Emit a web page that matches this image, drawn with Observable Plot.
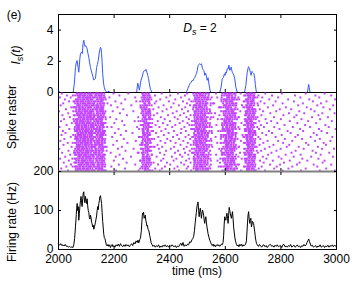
<!DOCTYPE html>
<html><head><meta charset="utf-8">
<script src="https://cdn.jsdelivr.net/npm/d3@7"></script>
<script src="https://cdn.jsdelivr.net/npm/@observablehq/plot@0.6"></script>
<style>
body{margin:0;background:#fff;}
#wrap{position:relative;width:354px;height:284px;font-family:"Liberation Sans",Arial,sans-serif;}
#wrap svg{position:absolute;left:0;overflow:visible;}
#labels{top:0;pointer-events:none;}
</style></head><body>
<div id="wrap">
<svg id="labels" width="354" height="284" font-family="Liberation Sans, Arial, sans-serif" font-size="12" fill="black">
  <text x="14" y="19" text-anchor="middle">(e)</text>
  <text x="200" y="32" text-anchor="middle"><tspan font-style="italic">D</tspan><tspan font-style="italic" font-size="9" dy="3">s</tspan><tspan dy="-3"> = 2</tspan></text>
  <text transform="translate(20,55) rotate(-90)" text-anchor="middle" font-style="italic">I<tspan font-size="9" dy="3">s</tspan><tspan dy="-3">(t)</tspan></text>
  <text transform="translate(16,117) rotate(-90)" text-anchor="middle">Spike raster</text>
  <text transform="translate(16,222) rotate(-90)" text-anchor="middle">Firing rate (Hz)</text>
  <text x="197" y="275" text-anchor="middle">time (ms)</text>
</svg>
</div>
<script>
const xTicks = [2000, 2200, 2400, 2600, 2800, 3000];
const isTicks = [0, 2, 4];
const frTicks = [0, 100, 200];

// I_s(t) — synaptic current (top panel)
const isT = [2000,2004,2053,2057,2061,2065,2067,2073,2077,2079,2083,2086,2088,2091,2093,2095,2098,2101,2103,2106,2109,2112,2115,2118,2121,2124,2127,2130,2133,2137,2140,2143,2147,2151,2153,2155,2157,2159,2162,2165,2169,2173,2178,2181,2184,
  2281,2285,2288,2291,2295,2297,2301,2305,2309,2312,2315,2318,2321,2324,2326,2329,2331,2336,
  2460,2465,2470,2472,2477,2481,2484,2487,2490,2493,2496,2499,2502,2505,2508,2511,2514,2516,2518,2521,2523,2526,2529,2532,2535,2538,2542,2545,2548,
  2580,2585,2589,2593,2597,2599,2601,2604,2607,2610,2613,2616,2619,2621,2623,2625,2628,2631,2634,2638,2643,
  2669,2674,2677,2679,2683,2685,2687,2690,2693,2696,2698,2701,2703,2706,2708,2712,2895,2898,2900,2902,2905,3000];
const isV = [0.15,0,0,0.6,1.6,2.0,2.05,1.3,2.2,2.48,2.6,2.5,3.1,3.35,3.1,2.95,3.0,2.9,2.8,2.5,2.25,1.9,1.6,1.4,1.2,1.0,0.8,0.85,0.9,1.6,1.8,2.05,2.6,2.9,2.8,2.5,1.9,1.2,0.6,0.3,0.1,0.05,0,0.1,0,
  0,0.6,0.4,0.15,0.6,0.8,1.0,1.3,1.42,1.4,1.48,1.3,1.1,0.9,0.65,0.35,0.2,0,
  0,0.25,0.45,0.55,0.65,0.78,0.75,0.88,0.95,1.1,1.2,1.4,1.72,1.8,1.84,1.8,1.84,1.7,1.52,1.45,1.4,1.1,1.25,1.05,0.78,0.95,0.45,0.15,0,
  0,0.35,0.88,0.95,1.2,1.1,1.3,1.25,1.52,1.5,1.75,1.42,1.5,1.62,1.45,1.3,1.2,1.1,0.88,0.34,0,
  0,0.45,1.0,1.3,1.65,1.62,1.52,1.3,1.1,1.35,1.3,1.25,1.2,0.9,0.5,0,0,0.3,0.52,0.3,0,0];

// Population firing rate (bottom panel)
const frT = [2000,2004,2008,2012,2016,2020,2024,2028,2032,2036,2040,2044,2048,2052,2055,2058,2061,2064,2067,2069,2071,2073,2075,2077,2079,2081,2083,2085,2087,2089,2091,2093,2095,2097,2099,2101,2103,2105,2107,2109,2111,2113,2115,2117,2119,2121,2123,2125,2127,2129,2131,2133,2135,2137,2139,2141,2143,2145,2147,2149,2151,2153,2155,2157,2159,2161,2163,2165,2167,2169,2172,2175,2178,2181,2184,2187,2190,2193,2196,2199,2203,2207,2211,2215,2219,2223,2227,2231,2235,2239,2243,2247,2251,2255,2259,2263,2267,2271,2275,2279,2283,2286,2289,2292,2295,2298,2300,2302,2304,2306,2308,2310,2312,2314,2316,2318,2320,2322,2324,2326,2328,2330,2333,2336,2340,2344,2348,2352,2356,2360,2364,2368,2372,2376,2380,2384,2388,2392,2396,2400,2404,2408,2412,2416,2420,2424,2428,2432,2436,2440,2444,2448,2452,2456,2460,2464,2468,2472,2476,2480,2483,2486,2489,2492,2494,2496,2498,2500,2502,2504,2506,2508,2510,2512,2514,2516,2518,2520,2522,2524,2526,2528,2530,2532,2534,2536,2538,2541,2544,2547,2550,2553,2556,2559,2562,2565,2568,2571,2574,2577,2580,2583,2586,2589,2592,2594,2596,2598,2600,2602,2604,2606,2608,2610,2612,2614,2616,2618,2620,2622,2624,2626,2628,2630,2632,2634,2636,2638,2640,2643,2646,2649,2652,2655,2658,2661,2664,2667,2670,2673,2676,2678,2680,2682,2684,2686,2688,2690,2692,2694,2696,2698,2700,2702,2704,2706,2708,2710,2712,2715,2719,2723,2727,2731,2735,2739,2743,2747,2751,2755,2759,2763,2767,2771,2775,2779,2783,2787,2791,2795,2799,2803,2807,2811,2815,2819,2823,2827,2831,2835,2839,2843,2847,2851,2855,2859,2863,2867,2871,2875,2879,2883,2887,2891,2894,2897,2900,2903,2906,2909,2913,2917,2921,2925,2929,2933,2937,2941,2945,2949,2953,2957,2961,2965,2969,2973,2977,2981,2985,2989,2993,2997,3000];
const frV = [14,11,15,10,12,9,13,8,9,6,8,5,7,5,12,28,58,90,118,100,110,75,92,110,125,136,120,110,130,145,148,127,120,136,125,118,130,112,100,95,82,78,88,82,70,66,58,62,52,58,63,70,78,86,100,110,102,118,125,135,138,128,118,95,72,55,38,30,28,22,12,9,13,8,12,5,10,13,7,10,6,12,9,14,8,15,10,7,12,8,13,9,12,7,11,15,10,18,14,22,18,24,17,25,30,48,72,93,90,96,80,84,88,75,68,60,62,52,50,45,36,30,18,13,8,11,6,10,7,12,5,9,6,11,8,12,7,10,6,11,8,12,9,7,10,5,9,7,12,16,10,18,8,12,9,14,12,20,18,25,28,33,48,70,84,95,110,118,122,100,84,98,106,95,80,92,101,96,88,75,67,78,84,70,58,50,40,32,24,19,13,10,14,8,12,7,11,13,9,12,8,10,14,12,18,35,65,84,78,75,85,93,80,67,88,108,100,93,85,80,90,97,78,58,45,32,24,18,13,9,12,7,13,10,14,8,12,9,11,14,22,45,70,90,97,78,67,75,80,58,65,72,70,66,55,45,32,23,16,12,8,13,9,6,11,12,7,10,5,9,12,13,8,10,6,11,8,12,7,9,10,5,12,13,7,9,6,10,8,13,6,9,11,6,8,12,7,9,5,10,8,13,9,12,18,22,27,20,14,9,11,6,8,10,5,9,7,12,6,8,10,5,9,7,11,6,10,8,12,7,11,8,12];

// Spike raster: 40 rows of 5 neurons each.
// Burst windows (start ms, 4 ms per character; '#' = spike, '|' is only a visual separator)
const burstStart = [2052, 2292, 2480, 2580, 2668];
// per-row offset (ms) of the burst edges
const rowShift = [3,-2,5,0,-4,6,1,-5,2,-1,4,-3,7,0,-6,3,-2,5,-4,1,6,-1,-5,2,4,-3,0,7,-2,3,-6,1,5,-4,2,-1,6,-3,0,4];
const rasterBursts = [
"..|##.###.##.####.#|.#|###.##.#|.. .#|#.##.#.|.. #.|##.###.#.##.|#... .#|.#|##.###.##|#.. .|##.###.#|..",
"#.|#.####.###.#.###|..|##.####.|#. ..|.###.##|#. ..|#.##.####.#.|.#.. ..|#.|#.####.#.|.#. #|#.####.#|#.",
"..|.###.##.#####.##|#.|#.###.##|.. #.|##.#.##|.. .#|.###.#.##.##|..#. #.|..|.###.##.#|..# .|.###.###|.#",
"..|###.#.###.##.###|..|.##.####|.# ..|#.#.###|.# ..|###.#.##.#.#|#.#. .#|.#|###.#.###|#.# .|###.#.##|..",
".#|#.##.####.#.##.#|.#|##.#.###|.. .#|.##.#.#|#. #.|#.#.###.##.#|.... ..|#.|#.##.####|... #|#.##.###|#.",
"#.|##.#.###.####.##|..|#.##.##.|.# ..|##..##.|.. ..|##.##.#.###.|.#.# .#|..|##.#.##.#|#.. .|##.##.#.|.#",
"..|.####.#.###.#.##|#.|###.##.#|.. #.|#.###.#|.# .#|##.###.#.##.|..#. ..|.#|##.###.##|.#. .|##.###.#|..",
".#|###.##.##.#.####|..|#.###.##|#. ..|#.##.#.|.. ..|#.##.####.#.|#... .#|#.|#.####.#.|..# #|#.####.#|..",
"..|#.###.###.##.#.#|.#|##.####.|.. .#|.###.##|.. #.|.###.#.##.##|.#.. ..|..|.###.##.#|#.# .|.###.###|#.",
"#.|##.##.#.####.###|#.|.##.####|.# ..|##.#.##|#. ..|###.#.##.#.#|..#. .#|.#|###.#.###|... .|###.#.##|.#",
"..|##.###.##.####.#|..|##.#.###|.. #.|#.#.###|.. .#|#.#.###.##.#|#.#. ..|#.|#.##.####|#.. #|#.##.###|..",
".#|#.####.###.#.###|.#|#.##.##.|#. ..|.##.#.#|.# ..|##.##.#.###.|.... #.|..|##.#.##.#|.#. .|##.##.#.|#.",
"..|.###.##.#####.##|..|###.##.#|.. .#|##..##.|.. #.|##.###.#.##.|.#.# ..|.#|##.###.##|..# .|##.###.#|..",
"#.|###.#.###.##.###|#.|##.####.|.# ..|#.###.#|#. ..|#.##.####.#.|..#. .#|#.|#.####.#.|#.# #|#.####.#|.#",
"..|#.##.####.#.##.#|..|#.###.##|.. #.|#.##.#.|.. .#|.###.#.##.##|#... ..|..|.###.##.#|... .|.###.###|..",
".#|##.#.###.####.##|.#|.##.####|#. ..|.###.##|.# ..|###.#.##.#.#|.#.. .#|.#|###.#.###|#.. .|###.#.##|#.",
"..|.####.#.###.#.##|#.|##.#.###|.. .#|##.#.##|.. #.|#.#.###.##.#|..#. ..|#.|#.##.####|.#. #|#.##.###|..",
"#.|###.##.##.#.####|..|#.##.##.|.# ..|#.#.###|#. ..|##.##.#.###.|#.#. .#|..|##.#.##.#|..# .|##.##.#.|.#",
"..|#.###.###.##.#.#|.#|###.##.#|.. #.|.##.#.#|.. .#|##.###.#.##.|.... ..|.#|##.###.##|#.# .|##.###.#|..",
".#|##.##.#.####.###|..|#.###.##|#. ..|##..##.|.# ..|#.##.####.#.|.#.# #.|#.|#.####.#.|... #|#.####.#|#.",
"..|##.###.##.####.#|#.|##.####.|.. .#|#.##.#.|.. #.|.###.#.##.##|..#. ..|..|.###.##.#|#.. .|.###.###|..",
"#.|#.####.###.#.###|..|.##.####|.# ..|.###.##|#. ..|###.#.##.#.#|#... .#|.#|###.#.###|.#. .|###.#.##|.#",
"..|.###.##.#####.##|.#|##.#.###|.. #.|##.#.##|.. .#|#.#.###.##.#|.#.. ..|#.|#.##.####|..# #|#.##.###|..",
".#|###.#.###.##.###|..|#.##.##.|#. ..|#.#.###|.# ..|##.##.#.###.|..#. #.|..|##.#.##.#|#.# .|##.##.#.|#.",
"..|#.##.####.#.##.#|#.|###.##.#|.. .#|.##.#.#|.. #.|##.###.#.##.|#.#. ..|.#|##.###.##|... .|##.###.#|..",
"#.|##.#.###.####.##|..|#.###.##|.# ..|##..##.|#. ..|#.##.####.#.|.... .#|#.|#.####.#.|#.. #|#.####.#|.#",
"..|.####.#.###.#.##|.#|##.####.|.. #.|#.##.#.|.. .#|.###.#.##.##|.#.# ..|..|.###.##.#|.#. .|.###.###|..",
".#|###.##.##.#.####|#.|.##.####|#. ..|.###.##|.# ..|###.#.##.#.#|..#. .#|.#|###.#.###|..# .|###.#.##|#.",
"..|#.###.###.##.#.#|..|##.#.###|.. .#|##.#.##|.. #.|#.#.###.##.#|#... ..|#.|#.##.####|#.# #|#.##.###|..",
"#.|##.##.#.####.###|.#|#.##.##.|.# ..|#.#.###|#. ..|##.##.#.###.|.#.. #.|..|##.#.##.#|... .|##.##.#.|.#",
"..|##.###.##.####.#|..|###.##.#|.. #.|.##.#.#|.. .#|##.###.#.##.|..#. ..|.#|##.###.##|#.. .|##.###.#|..",
".#|#.####.###.#.###|#.|#.###.##|#. ..|##..##.|.# ..|#.##.####.#.|#.#. .#|#.|#.####.#.|.#. #|#.####.#|#.",
"..|.###.##.#####.##|..|##.####.|.. .#|#.##.#.|.. #.|.###.#.##.##|.... ..|..|.###.##.#|..# .|.###.###|..",
"#.|###.#.###.##.###|.#|.##.####|.# ..|.###.##|#. ..|###.#.##.#.#|.#.# .#|.#|###.#.###|#.# .|###.#.##|.#",
"..|#.##.####.#.##.#|..|##.#.###|.. #.|##.#.##|.. .#|#.#.###.##.#|..#. ..|#.|#.##.####|... #|#.##.###|..",
".#|##.#.###.####.##|#.|#.##.##.|#. ..|#.#.###|.# ..|##.##.#.###.|#... #.|..|##.#.##.#|#.. .|##.##.#.|#.",
"..|.####.#.###.#.##|..|###.##.#|.. .#|.##.#.#|.. #.|##.###.#.##.|.#.. ..|.#|##.###.##|.#. .|##.###.#|..",
"#.|###.##.##.#.####|.#|#.###.##|.# ..|##..##.|#. ..|#.##.####.#.|..#. .#|#.|#.####.#.|..# #|#.####.#|.#",
"..|#.###.###.##.#.#|..|##.####.|.. #.|#.##.#.|.. .#|.###.#.##.##|#.#. ..|..|.###.##.#|#.# .|.###.###|..",
".#|##.##.#.####.###|#.|.##.####|#. ..|.###.##|.# ..|###.#.##.#.#|.... .#|.#|###.#.###|... .|###.#.##|#."
];
// Background spikes per row (ms after 2000)
const rasterBg = [
"12 198 251 371 430 463 566 655 744 803 889 957",
"31 219 347 402 455 719 768 851 924 981",
"5 44 183 276 388 441 571 733 790 870 938",
"23 240 309 366 420 470 650 758 826 902 995",
"38 205 280 352 397 448 727 781 847 915 964",
"17 226 346 414 462 560 741 806 879 944",
"8 189 262 378 433 473 660 718 772 862 931 988",
"46 212 295 360 405 456 577 753 818 893 953",
"27 233 341 389 444 724 796 837 908 976",
"2 195 269 374 425 466 654 736 783 866 921",
"35 221 317 355 411 451 563 762 829 884 949 993",
"14 246 343 394 438 475 730 809 856 935",
"41 186 287 368 418 460 647 716 775 848 912 969",
"20 208 337 382 429 469 573 745 800 874 941",
"9 229 274 357 401 447 722 765 832 898 983",
"48 201 322 376 436 464 658 750 787 859 927",
"29 237 349 392 420 471 568 728 813 887 960",
"4 191 283 363 409 453 739 776 843 905 972",
"39 216 304 385 442 477 651 721 795 869 937 997",
"16 243 340 370 415 458 575 757 824 880 946",
"25 203 266 351 396 440 733 768 835 918 966",
"11 224 327 379 427 468 662 747 803 861 929",
"44 193 290 359 412 457 565 719 781 852 907 985",
"21 235 344 391 434 474 726 814 876 940",
"7 210 278 367 403 449 656 752 790 841 923 978",
"33 248 332 384 421 465 571 737 808 890 954",
"18 197 299 356 439 476 723 773 830 899 962",
"47 228 346 373 416 461 648 759 821 864 933",
"3 214 270 361 404 451 578 742 799 882 948 991",
"36 241 318 387 430 472 729 784 853 914",
"13 188 285 365 419 455 653 717 766 838 926 974",
"42 220 336 381 437 467 567 754 817 871 943",
"24 206 261 353 408 445 735 792 846 909 987",
"6 232 329 377 424 470 659 748 802 877 935",
"37 199 293 369 414 459 572 725 771 832 895 957",
"19 245 342 390 441 475 738 811 867 950",
"45 217 276 358 402 452 649 761 797 858 918 981",
"28 190 311 383 428 466 576 731 785 841 931",
"10 239 348 372 417 461 720 776 827 889 963",
"34 207 288 364 433 477 657 743 806 872 940 994"
];
const neuronsPerRow = 5;
const burstStep = 4;

const isData = isT.map((t, i) => ({t, v: isV[i]}));
const frData = frT.map((t, i) => ({t, v: frV[i]}));
const spikes = [];
rasterBursts.forEach((row, r) => {
  const n = r * neuronsPerRow + neuronsPerRow / 2;
  row.split(" ").forEach((seg, k) => {
    const s = seg.replace(/\|/g, "");
    for (let i = 0; i < s.length; i++) if (s[i] === "#") spikes.push({t: burstStart[k] + rowShift[r] + i * burstStep + burstStep / 2, n});
  });
  rasterBg[r].split(" ").forEach(v => spikes.push({t: 2000 + +v, n}));
});

const style = {fontFamily: "Liberation Sans, Arial, sans-serif", fontSize: "12px", background: "transparent", overflow: "visible", color: "black"};
const base = {width: 354, marginLeft: 58, marginRight: 18, x: {domain: [2000, 3000]}, style};
const blank = () => "";
const intFmt = d3.format("d");
const inner = (extra) => Object.assign({tickSize: -3, label: null}, extra);

const p1 = Plot.plot({...base, height: 92, marginTop: 14, marginBottom: 0,
  y: {domain: [0, 5]},
  marks: [
    Plot.line(isData, {x: "t", y: "v", stroke: "#3558ff", strokeWidth: 1}),
    Plot.axisY(inner({ticks: isTicks, anchor: "left", tickPadding: 8, tickFormat: intFmt})),
    Plot.axisY(inner({ticks: isTicks, anchor: "right", tickFormat: blank})),
    Plot.axisX(inner({ticks: xTicks, anchor: "top", tickFormat: blank})),
    Plot.axisX(inner({ticks: xTicks, anchor: "bottom", tickFormat: blank})),
    Plot.frame({stroke: "black"})
  ]});
p1.style.top = "0px";

const p2 = Plot.plot({...base, height: 79, marginTop: 0, marginBottom: 0,
  y: {domain: [0, 200], reverse: true, axis: null},
  marks: [
    Plot.dot(spikes, {x: "t", y: "n", r: 1.1, symbol: "square", fill: "#c244ff"}),
    Plot.ruleX([2000, 3000], {stroke: "black"}),
    Plot.axisX(inner({ticks: xTicks, anchor: "bottom", tickFormat: blank}))
  ]});
p2.style.top = "92px";

const p3 = Plot.plot({...base, height: 113, marginTop: 0, marginBottom: 35,
  y: {domain: [0, 200]},
  marks: [
    Plot.ruleY([200], {stroke: "#808080", strokeWidth: 2}),
    Plot.line(frData, {x: "t", y: "v", stroke: "black", strokeWidth: 1}),
    Plot.axisY(inner({ticks: frTicks, anchor: "left", tickPadding: 8, tickFormat: intFmt})),
    Plot.axisY(inner({ticks: frTicks, anchor: "right", tickFormat: blank})),
    Plot.axisX(inner({ticks: xTicks, anchor: "bottom", tickPadding: 8, tickFormat: intFmt})),
    Plot.axisX(inner({ticks: xTicks, anchor: "top", tickFormat: blank})),
    Plot.ruleX([2000, 3000], {stroke: "black"}),
    Plot.ruleY([0], {stroke: "black"})
  ]});
p3.style.top = "171px";

const wrap = document.getElementById("wrap");
wrap.insertBefore(p3, wrap.firstChild);
wrap.insertBefore(p2, wrap.firstChild);
wrap.insertBefore(p1, wrap.firstChild);
</script>
</body></html>
